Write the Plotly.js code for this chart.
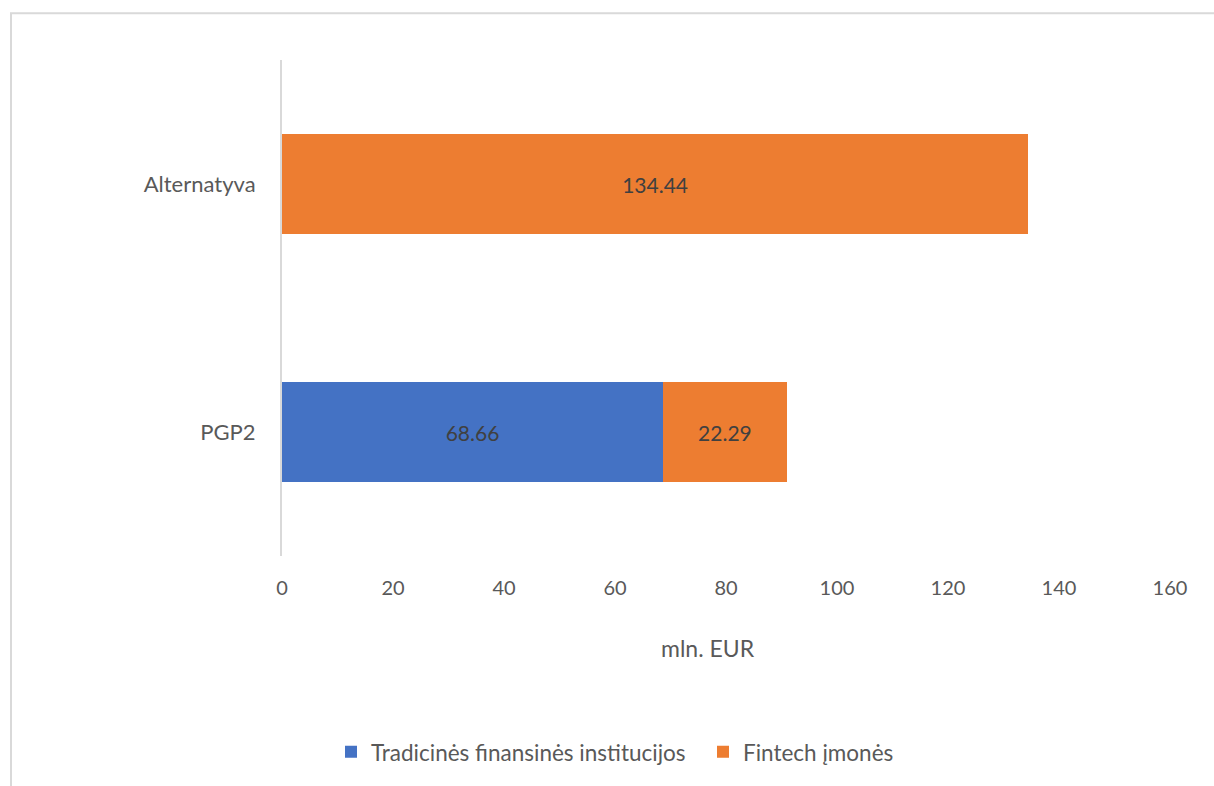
<!DOCTYPE html>
<html>
<head>
<meta charset="utf-8">
<script src="https://cdn.plot.ly/plotly-3.0.1.min.js"></script>
<style>html,body{margin:0;padding:0;background:#fff;}#chart{width:1214px;height:786px;}</style>
</head>
<body>
<div id="chart"></div>
<script>
const categories = ['PGP2', 'Alternatyva'];
const tradicines = [68.66, null];
const fintech = [22.29, 134.44];
const seriesNames = ['Tradicinės finansinės institucijos', 'Fintech įmonės'];
const xTicks = [0, 20, 40, 60, 80, 100, 120, 140, 160];
const xTitle = 'mln. EUR';

const font = 'Lato, "Open Sans", sans-serif';

const traces = [
  {
    type: 'bar', orientation: 'h', name: seriesNames[0],
    y: categories, x: tradicines,
    marker: {color: '#4472C4'},
    texttemplate: '%{x:.2f}', textposition: 'inside', insidetextanchor: 'middle',
    textfont: {color: '#404040', size: 21, family: font},
    constraintext: 'none', hoverinfo: 'x'
  },
  {
    type: 'bar', orientation: 'h', name: seriesNames[1],
    y: categories, x: fintech,
    marker: {color: '#ED7D31'},
    texttemplate: '%{x:.2f}', textposition: 'inside', insidetextanchor: 'middle',
    textfont: {color: '#404040', size: 21, family: font},
    constraintext: 'none', hoverinfo: 'x'
  }
];

const layout = {
  width: 1214, height: 786,
  margin: {l: 282, r: 44, t: 60, b: 228},
  barmode: 'stack', bargap: 0.6,
  paper_bgcolor: '#fff', plot_bgcolor: '#fff',
  font: {family: font, color: '#595959', size: 21},
  showlegend: true,
  legend: {orientation: 'h', x: (331 - 282) / 888, xanchor: 'left', y: (558 - 755) / 498, yanchor: 'middle',
           traceorder: 'normal', font: {size: 22.5, color: '#595959'}, itemwidth: 30,
           entrywidth: 327, entrywidthmode: 'pixels'},
  xaxis: {
    range: [0, 160], tickvals: xTicks, ticktext: xTicks.map(String),
    showgrid: false, zeroline: false, showline: false, ticks: '',
    ticklabelstandoff: 18, tickfont: {size: 20}
  },
  yaxis: {
    type: 'category', showgrid: false, zeroline: false,
    showline: true, linecolor: '#d9d9d9', linewidth: 2, ticks: '',
    ticklabelstandoff: 20, tickfont: {size: 22}
  },
  annotations: [
    {text: xTitle, xref: 'paper', yref: 'paper', x: (708 - 282) / 888, y: (558 - 650) / 498,
     xanchor: 'center', yanchor: 'middle', showarrow: false, font: {size: 23, color: '#595959'}}
  ],
  shapes: [
    {type: 'rect', xref: 'paper', yref: 'paper',
     x0: (11 - 282) / 888, x1: (1230 - 282) / 888,
     y0: (558 - 800) / 498, y1: (558 - 13) / 498,
     line: {color: '#d9d9d9', width: 2}, fillcolor: 'rgba(0,0,0,0)', layer: 'below'}
  ]
};

Plotly.newPlot('chart', traces, layout, {displayModeBar: false, staticPlot: true});
</script>
</body>
</html>
